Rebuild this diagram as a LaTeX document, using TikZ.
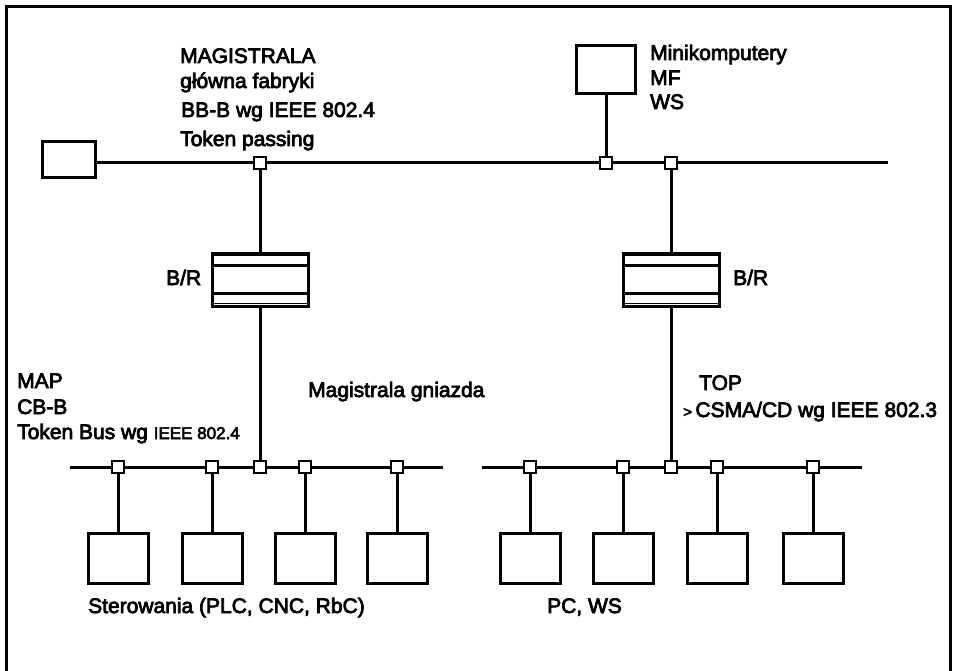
\documentclass[tikz,border=0pt]{standalone}
\usepackage{fontspec}
\setmainfont{Liberation Sans}
\newfontfamily\heavy{Liberation Sans}[FakeBold=3.5]
\begin{document}
\begin{tikzpicture}[x=1pt,y=-1pt,
  ln/.style={line width=3pt},
  tap/.style={draw,fill=white,line width=2.6pt,minimum size=12pt,inner sep=0pt},
  dev/.style={draw,line width=3pt,minimum width=60pt,minimum height=50pt,inner sep=0pt},
  brbox/.style={draw,line width=3pt,minimum width=96pt,minimum height=53pt,inner sep=0pt},
  lbl/.style={anchor=base west,inner sep=0pt,font=\heavy\fontsize{21}{25}\selectfont}]
\useasboundingbox (0,0) rectangle (953,671);
% frame
\coordinate (fa) at (6,671);
\coordinate (fb) at (6,7);
\coordinate (fc) at (950,7);
\coordinate (fd) at (950,671);
\draw[ln] (fa) -- (fb) -- (fc) -- (fd);

% main bus
\node[draw,ln,minimum width=53pt,minimum height=36pt,inner sep=0pt] (lb) at (68.5,160) {};
\node[draw,ln,minimum width=59pt,minimum height=48pt,inner sep=0pt] (mini) at (606,70) {};
\coordinate (mend) at (888,163);
\draw[ln] (lb.east |- mend) -- (mend);

% bridges/routers
\node[brbox] (br1) at (260,279.5) {};
\node[brbox] (br2) at (671,279.5) {};
\foreach \b in {br1,br2}{
  \draw[line width=2.8pt] ([yshift=-14pt]\b.north west) -- ([yshift=-14pt]\b.north east);
  \draw[line width=2.8pt] ([yshift=14pt]\b.south west) -- ([yshift=14pt]\b.south east);
  \draw[line width=0.9pt] ([xshift=1pt,yshift=-4pt]\b.north west) -- ([xshift=-1pt,yshift=-4pt]\b.north east);
  \draw[line width=0.9pt] ([xshift=1pt,yshift=4pt]\b.south west) -- ([xshift=-1pt,yshift=4pt]\b.south east);
}

% lower buses
\coordinate (lbs) at (70,467);
\coordinate (lbe) at (443,467);
\coordinate (rbs) at (482,467);
\coordinate (rbe) at (862,467);
\draw[ln] (lbs) -- (lbe);
\draw[ln] (rbs) -- (rbe);

% devices
\node[dev] (s1) at (118,558) {};
\node[dev] (s2) at (212,558) {};
\node[dev] (s3) at (305,558) {};
\node[dev] (s4) at (397,558) {};
\node[dev] (p1) at (530,558) {};
\node[dev] (p2) at (623,558) {};
\node[dev] (p3) at (717,558) {};
\node[dev] (p4) at (813,558) {};

% taps
\node[tap] (m1) at (260,163) {};
\node[tap] (m2) at (606,163) {};
\node[tap] (m3) at (671,163) {};
\node[tap] (l1) at (118,467) {};
\node[tap] (l2) at (212,467) {};
\node[tap] (l3) at (260,467) {};
\node[tap] (l4) at (305,467) {};
\node[tap] (l5) at (397,467) {};
\node[tap] (r1) at (530,467) {};
\node[tap] (r2) at (623,467) {};
\node[tap] (r3) at (671,467) {};
\node[tap] (r4) at (717,467) {};
\node[tap] (r5) at (813,467) {};

% connectors
\draw[ln] (mini) -- (m2);
\draw[ln] (m1) -- (br1);
\draw[ln] (br1) -- (l3);
\draw[ln] (m3) -- (br2);
\draw[ln] (br2) -- (r3);
\draw[ln] (l1) -- (s1);
\draw[ln] (l2) -- (s2);
\draw[ln] (l4) -- (s3);
\draw[ln] (l5) -- (s4);
\draw[ln] (r1) -- (p1);
\draw[ln] (r2) -- (p2);
\draw[ln] (r4) -- (p3);
\draw[ln] (r5) -- (p4);

% labels
\node[lbl] (t1) at (180,63) {MAGISTRALA};
\node[lbl] (t2) at (180,88) {główna fabryki};
\node[lbl] (t3) at (181,117) {BB-B wg IEEE 802.4};
\node[lbl] (t4) at (180,146) {Token passing};
\node[lbl] (t5) at (650,60) {Minikomputery};
\node[lbl] (t6) at (650,85) {MF};
\node[lbl] (t7) at (650,109) {WS};
\node[lbl] (t8) at (166,285) {B/R};
\node[lbl] (t9) at (733,285) {B/R};
\node[lbl] (t10) at (17,388) {MAP};
\node[lbl] (t11) at (17,414) {CB-B};
\node[lbl] (t12) at (17,439) {Token Bus wg {\fontsize{17}{20}\selectfont IEEE 802.4}};
\node[lbl] (t13) at (308,397) {Magistrala gniazda};
\node[lbl] (t14) at (699,390) {TOP};
\node[lbl] (t15) at (683,417) {{\fontsize{15}{18}\selectfont >}\,CSMA/CD wg IEEE 802.3};
\node[lbl] (t16) at (88,613) {Sterowania (PLC, CNC, RbC)};
\node[lbl] (t17) at (547,613) {PC, WS};
\end{tikzpicture}
\end{document}
